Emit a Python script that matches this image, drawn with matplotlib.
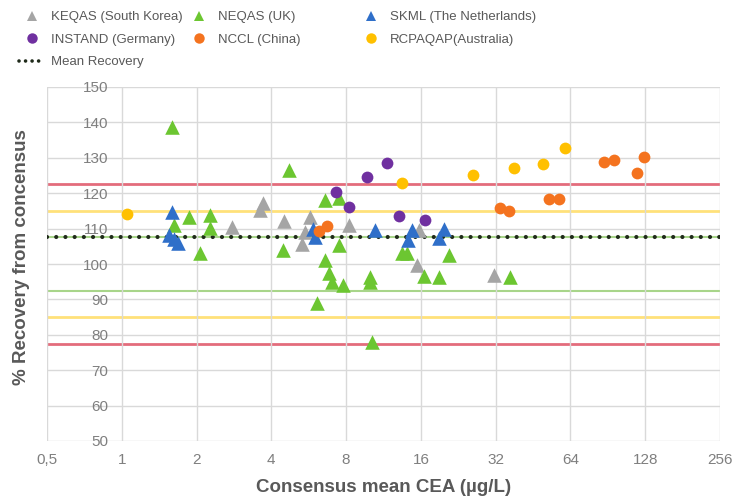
import matplotlib.pyplot as plt
from matplotlib.lines import Line2D
from matplotlib.ticker import FixedLocator, NullLocator

plt.rcParams['font.family'] = ['Liberation Sans', 'DejaVu Sans']

# recovery (%) against consensus mean CEA (ug/L) per EQA scheme
keqas_x = [2.77, 3.69, 3.6, 4.5, 5.7, 5.45, 5.3, 8.2, 15.7, 15.5, 31.4]
keqas_y = [110.5, 117.1, 115.2, 112.2, 113.2, 109.0, 105.6, 111.0, 109.6, 99.7, 96.9]

neqas_x = [1.6, 1.63, 1.87, 2.06, 2.27, 2.27, 4.44, 4.7, 6.6, 7.5, 7.5, 6.6, 6.8,
           7.0, 7.8, 6.1, 10.0, 10.0, 10.2, 13.4, 14.1, 20.7, 16.4, 18.9, 36.7]
neqas_y = [138.8, 111.0, 113.4, 103.0, 113.8, 110.1, 104.0, 126.6, 118.1, 118.6, 105.4, 101.1, 97.4,
           95.0, 94.1, 88.9, 96.4, 95.0, 78.1, 103.0, 103.0, 102.5, 96.6, 96.4, 96.4]

skml_x = [1.6, 1.55, 1.62, 1.68, 5.9, 6.0, 10.5, 14.8, 14.2, 19.8, 18.9]
skml_y = [114.8, 108.3, 107.0, 106.0, 110.0, 107.5, 109.6, 109.6, 106.8, 109.8, 107.3]

instand_x = [7.3, 8.2, 9.7, 11.7, 13.1, 16.6]
instand_y = [120.4, 116.2, 124.7, 128.6, 113.6, 112.4]

nccl_x = [6.2, 6.7, 33.4, 36.3, 52.6, 57.3, 87.4, 95.8, 118.9, 126.8]
nccl_y = [109.4, 110.7, 115.9, 115.1, 118.4, 118.4, 128.7, 129.4, 125.6, 130.3]

rcpa_x = [1.05, 13.4, 25.9, 37.8, 49.4, 60.6]
rcpa_y = [114.1, 122.8, 125.1, 127.0, 128.2, 132.7]

mean_recovery = 107.5
red_limits = [122.5, 77.5]
yellow_limits = [115, 85]
green_limits = [107.5, 92.5]

x_ticks = [0.5, 1, 2, 4, 8, 16, 32, 64, 128, 256]
x_labels = ['0,5', '1', '2', '4', '8', '16', '32', '64', '128', '256']
y_ticks = list(range(50, 151, 10))

c_gray = '#A5A5A5'
c_green = '#6CC631'
c_blue = '#2F6FC9'
c_purple = '#7030A0'
c_orange = '#F4731F'
c_yellow = '#FFC000'
c_mean = '#1F2A1A'
mean_style = (0, (0.01, 2.2))

fig = plt.figure(figsize=(7.4, 5.0), dpi=100)
ax = fig.add_axes([47 / 740, 1 - 441 / 500, 673 / 740, 354 / 500])

ax.set_xscale('log', base=2)
ax.set_xlim(0.5, 256)
ax.set_ylim(50, 150)
ax.xaxis.set_major_locator(FixedLocator(x_ticks))
ax.xaxis.set_minor_locator(NullLocator())
ax.set_xticklabels(x_labels)
ax.set_yticks(y_ticks)

ax.grid(True, color='#D9D9D9', linewidth=1.0, zorder=0)
for s in ax.spines.values():
    s.set_visible(False)
ax.tick_params(axis='both', length=0, labelsize=11, labelcolor='#7F7F7F')
ax.tick_params(axis='x', pad=9)
ax.tick_params(axis='y', pad=-44)

# acceptance limits
for v in red_limits:
    ax.axhline(v, color='#E36C7C', linewidth=2.0, zorder=1)
for v in yellow_limits:
    ax.axhline(v, color='#FFE17A', linewidth=2.0, zorder=1)
for v in green_limits:
    ax.axhline(v, color='#A8D58A', linewidth=1.5, zorder=1)
ax.axhline(mean_recovery, color=c_mean, linewidth=3.0, linestyle=mean_style,
           dash_capstyle='round', zorder=2)

tri = dict(marker='^', s=110, linewidths=0, zorder=3)
dot = dict(marker='o', s=72, linewidths=0, zorder=4)
ax.scatter(keqas_x, keqas_y, color=c_gray, **tri)
ax.scatter(neqas_x, neqas_y, color=c_green, **tri)
ax.scatter(skml_x, skml_y, color=c_blue, **tri)
ax.scatter(instand_x, instand_y, color=c_purple, **dot)
ax.scatter(nccl_x, nccl_y, color=c_orange, **dot)
ax.scatter(rcpa_x, rcpa_y, color=c_yellow, **dot)

fig.text(22 / 740, 1 - 257 / 500, '% Recovery from concensus', rotation=90,
         ha='center', va='center', fontsize=13.5, fontweight='bold', color='#595959')
fig.text(384 / 740, 1 - 487 / 500, 'Consensus mean CEA (\u00b5g/L)',
         ha='center', va='center', fontsize=13.5, fontweight='bold', color='#595959')


def handle(marker, color):
    return Line2D([], [], linestyle='none', marker=marker, markersize=7.5,
                  markerfacecolor=color, markeredgewidth=0)


mean_handle = Line2D([], [], color=c_mean, linewidth=2.6, linestyle=(0, (0.01, 1.8)),
                     dash_capstyle='round')

columns = [
    (19, [handle('^', c_gray), handle('o', c_purple), mean_handle],
     ['KEQAS (South Korea)', 'INSTAND (Germany)', 'Mean Recovery']),
    (186, [handle('^', c_green), handle('o', c_orange)],
     ['NEQAS (UK)', 'NCCL (China)']),
    (358, [handle('^', c_blue), handle('o', c_yellow)],
     ['SKML (The Netherlands)', 'RCPAQAP(Australia)']),
]
for left, hs, labels in columns:
    leg = fig.legend(hs, labels, loc='upper left', bbox_to_anchor=(left / 740, 1 - 11 / 500),
                     frameon=False, prop={'size': 9.5},
                     handlelength=2.0, handletextpad=0.4,
                     labelspacing=0.78, borderpad=0, borderaxespad=0)
    for t in leg.get_texts():
        t.set_color('#595959')

fig.savefig('out.png', dpi=100)
